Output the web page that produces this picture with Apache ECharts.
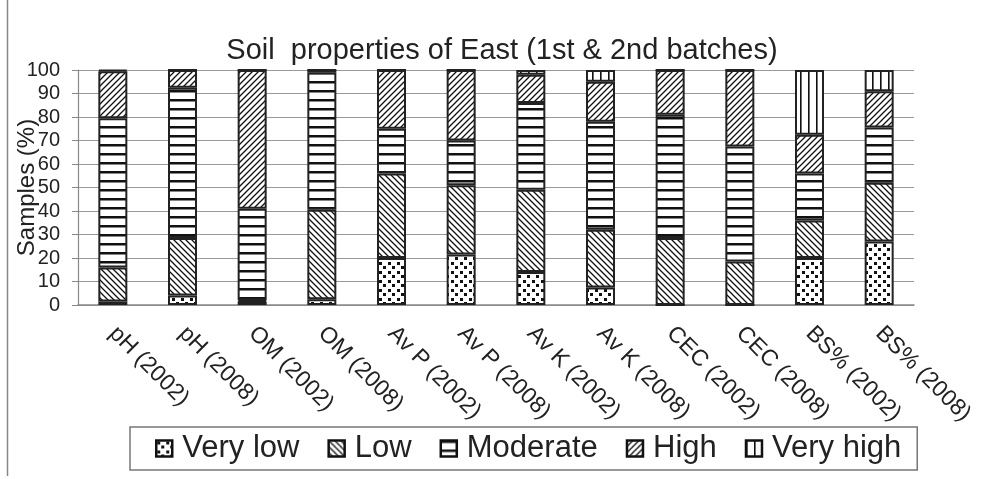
<!DOCTYPE html>
<html>
<head>
<meta charset="utf-8">
<script src="https://cdn.jsdelivr.net/npm/echarts@6/dist/echarts.min.js"></script>
<style>
html,body{margin:0;padding:0;background:#fff;}
#chart{width:982px;height:479px;}
</style>
</head>
<body>
<div id="chart"></div>
<script>
var categories = ['pH (2002)','pH (2008)','OM (2002)','OM (2008)','Av P (2002)','Av P (2008)','Av K (2002)','Av K (2008)','CEC (2002)','CEC (2008)','BS% (2002)','BS% (2008)'];
var seriesNames = ['Very low','Low','Moderate','High','Very high'];
var veryLow  = [1.5, 4, 1.5, 2.5, 20, 21.5, 14, 7.5, 0, 0, 20, 27];
var low      = [14.5, 24.5, 0.5, 38, 36, 29.5, 35, 24.5, 28.5, 18.5, 16, 25];
var moderate = [63.5, 64, 39, 58.5, 19, 19, 37, 46, 52.5, 49, 20, 23.5];
var high     = [20, 7.5, 59, 1, 25, 30, 12, 17, 19, 32.5, 16.5, 15.5];
var veryHigh = [0.5, 0, 0, 0, 0, 0, 2, 5, 0, 0, 27.5, 9];
var yTicks = [0,10,20,30,40,50,60,70,80,90,100];

function tile(w, h, draw) {
  var c = document.createElement('canvas');
  c.width = w; c.height = h;
  var g = c.getContext('2d');
  g.fillStyle = '#fff'; g.fillRect(0,0,w,h);
  g.fillStyle = '#111'; g.strokeStyle = '#111';
  draw(g, w, h);
  return {image: c, repeat: 'repeat'};
}
var patterns = [
  tile(9, 9, function(g){ g.fillRect(1,1,3,3); g.fillRect(5,5,3,3); }),
  tile(6, 6, function(g){ g.lineWidth = 1.3; g.beginPath();
    g.moveTo(-1,-1); g.lineTo(7,7); g.moveTo(-1,5); g.lineTo(1,7); g.moveTo(5,-1); g.lineTo(7,1); g.stroke(); }),
  tile(4, 9, function(g){ g.fillRect(0,0,4,2.5); }),
  tile(6, 6, function(g){ g.lineWidth = 1.3; g.beginPath();
    g.moveTo(-1,7); g.lineTo(7,-1); g.moveTo(-1,1); g.lineTo(1,-1); g.moveTo(5,7); g.lineTo(7,5); g.stroke(); }),
  tile(8, 4, function(g){ g.fillRect(0,0,1.6,4); })
];
var dataSets = [veryLow, low, moderate, high, veryHigh];

var chart = echarts.init(document.getElementById('chart'));
var font = 'Liberation Sans, Arial, sans-serif';
chart.setOption({
  animation: false,
  backgroundColor: '#fff',
  title: {
    text: 'Soil  properties of East (1st & 2nd batches)',
    left: 497, top: 31, textAlign: 'center',
    textStyle: {fontFamily: font, fontSize: 29, fontWeight: 'normal', color: '#222'}
  },
  grid: {left: 78, right: 68, top: 70, bottom: 174, containLabel: false, outerBoundsMode: 'none'},
  legend: {
    data: seriesNames,
    left: 130, top: 427,
    padding: [6, 16, 6, 25],
    itemWidth: 16, itemHeight: 16, itemGap: 28,
    icon: 'rect',
    itemStyle: {borderColor: '#111', borderWidth: 2.5},
    borderColor: '#777', borderWidth: 1.5,
    textStyle: {fontFamily: font, fontSize: 31, color: '#222', padding: [0,0,0,5]}
  },
  xAxis: {
    type: 'category', data: categories,
    axisLine: {lineStyle: {color: '#888', width: 1.5}},
    axisTick: {show: false},
    axisLabel: {interval: 0, rotate: -45, fontFamily: font, fontSize: 23, color: '#222', margin: 25}
  },
  yAxis: {
    type: 'value', min: 0, max: 100, interval: 10,
    name: 'Samples (%)', nameLocation: 'middle', nameGap: 39, nameRotate: 90,
    nameMoveOverlap: false,
    nameTextStyle: {fontFamily: font, fontSize: 24, color: '#222'},
    axisLine: {show: true, lineStyle: {color: '#888', width: 1.2}},
    axisTick: {show: true, length: 6, lineStyle: {color: '#888'}},
    splitLine: {lineStyle: {color: '#999', width: 1}},
    axisLabel: {fontFamily: font, fontSize: 20, color: '#222', margin: 18,
      formatter: function(v){ return yTicks.indexOf(v) >= 0 ? String(v) : ''; }}
  },
  graphic: [{type: 'line', shape: {x1: 7.5, y1: 0, x2: 7.5, y2: 476}, style: {stroke: '#888', lineWidth: 1.5}}],
  series: seriesNames.map(function(n, i){
    return {
      name: n, type: 'bar', stack: 'total', barWidth: 29,
      data: dataSets[i],
      itemStyle: {color: patterns[i], borderColor: '#222', borderWidth: 2}
    };
  })
});
</script>
</body>
</html>
